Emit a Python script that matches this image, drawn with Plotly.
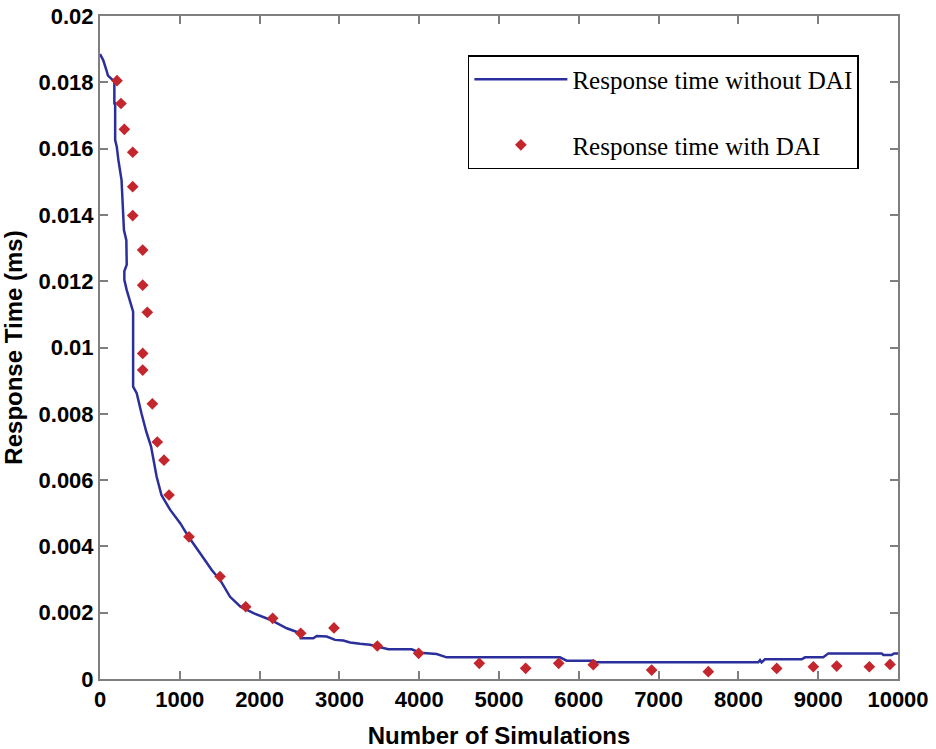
import plotly.graph_objects as go

# Response time without DAI (step-like blue line)
line_x = [0, 40, 80, 100, 180, 180, 190, 190, 210, 230, 270, 285, 300, 330, 335, 335,
          305, 305, 335, 395, 415, 415, 460, 520, 580, 640, 690, 710, 770, 880,
          1005, 1110, 1270, 1400, 1505, 1630, 1760, 1930, 2140, 2340, 2510, 2515,
          2673, 2716, 2841, 2945, 3049, 3133, 3258, 3383, 3613, 3906, 4010, 4219,
          4345, 5764, 5848, 6182, 6224, 8250, 8271, 8290, 8333, 8793, 8835, 9064,
          9127, 9796, 9816, 9920, 9950, 10000]
line_y = [0.01885, 0.01867, 0.01837, 0.0182, 0.01802, 0.01737, 0.01737, 0.01626,
          0.01606, 0.01566, 0.01505, 0.01415, 0.01354, 0.01324, 0.01285, 0.01250,
          0.01230, 0.01204, 0.01173, 0.01128, 0.01108, 0.00882, 0.00862, 0.00801,
          0.00746, 0.00701, 0.0064, 0.0061, 0.00555, 0.0051, 0.0047, 0.00429,
          0.00374, 0.00329, 0.00299, 0.00248, 0.00218, 0.00198, 0.00178, 0.00153,
          0.00138, 0.00123, 0.00123, 0.0013, 0.00128, 0.00118, 0.00116, 0.0011,
          0.00106, 0.00103, 0.000895, 0.000895, 0.000793, 0.000754, 0.000654,
          0.000654, 0.000552, 0.000552, 0.000503, 0.000503, 0.00057, 0.00050,
          0.000594, 0.000594, 0.000654, 0.000654, 0.000773, 0.000773, 0.000724,
          0.000724, 0.00077, 0.00077]

# Response time with DAI (red diamonds)
dai_x = [213, 263, 305, 410, 410, 410, 535, 535, 593, 535, 535, 656, 718, 802, 865,
         1115, 1504, 1826, 2164, 2515, 2932, 3475, 3993, 4753, 5334, 5748, 6182,
         6913, 7623, 8480, 8939, 9232, 9641, 9900]
dai_y = [0.01805, 0.01736, 0.01658, 0.01589, 0.01485, 0.01398, 0.01294, 0.01188,
         0.01106, 0.00982, 0.00932, 0.0083, 0.00715, 0.0066, 0.00555, 0.00429,
         0.00309, 0.00218, 0.00183, 0.00138, 0.00154, 0.000995, 0.000775, 0.000473,
         0.000322, 0.000473, 0.000432, 0.00027, 0.00022, 0.00032, 0.00037, 0.00039,
         0.00037, 0.00044]

x_ticks = [0, 1000, 2000, 3000, 4000, 5000, 6000, 7000, 8000, 9000, 10000]
x_labels = [str(v) for v in x_ticks]
y_ticks = [0, 0.002, 0.004, 0.006, 0.008, 0.01, 0.012, 0.014, 0.016, 0.018, 0.02]
y_labels = ["0", "0.002", "0.004", "0.006", "0.008", "0.01", "0.012", "0.014",
            "0.016", "0.018", "0.02"]

fig = go.Figure()
fig.add_trace(go.Scatter(
    x=line_x, y=line_y, mode="lines", name="Response time without DAI",
    line=dict(color="#2b2f9c", width=2.5), legendgroup="a"))
fig.add_trace(go.Scatter(
    x=dai_x, y=dai_y, mode="markers", name="Response time with DAI",
    marker=dict(symbol="diamond", size=9, color="#c3272d"), legendgroup="b"))

tickfont = dict(family="Liberation Sans, Arial", size=22, color="black", weight="bold")
titlefont = dict(family="Liberation Sans, Arial", size=24, color="black", weight="bold")
axis_common = dict(
    showline=True, linecolor="#7f7f7f", linewidth=2, mirror="ticks",
    ticks="inside", ticklen=8, tickcolor="#7f7f7f", tickwidth=2,
    showgrid=False, zeroline=False, tickfont=tickfont, automargin=False)

fig.update_xaxes(range=[0, 10000], tickvals=x_ticks, ticktext=x_labels,
                 title=dict(text="Number of Simulations", font=titlefont, standoff=18),
                 **axis_common)
fig.update_yaxes(range=[0, 0.02], tickvals=y_ticks, ticktext=y_labels,
                 title=dict(text="Response Time (ms)", font=titlefont, standoff=10),
                 **axis_common)

fig.update_layout(
    width=936, height=749,
    margin=dict(l=100, r=38, t=16, b=70),
    paper_bgcolor="white", plot_bgcolor="white",
    showlegend=True,
    legend=dict(
        x=0.461, y=0.941, xanchor="left", yanchor="top",
        bordercolor="black", borderwidth=1.5, bgcolor="white",
        font=dict(family="Liberation Serif, Times New Roman", size=25, color="black"),
        traceorder="grouped", tracegroupgap=30, itemwidth=93),
)

fig.write_html("out.html")
